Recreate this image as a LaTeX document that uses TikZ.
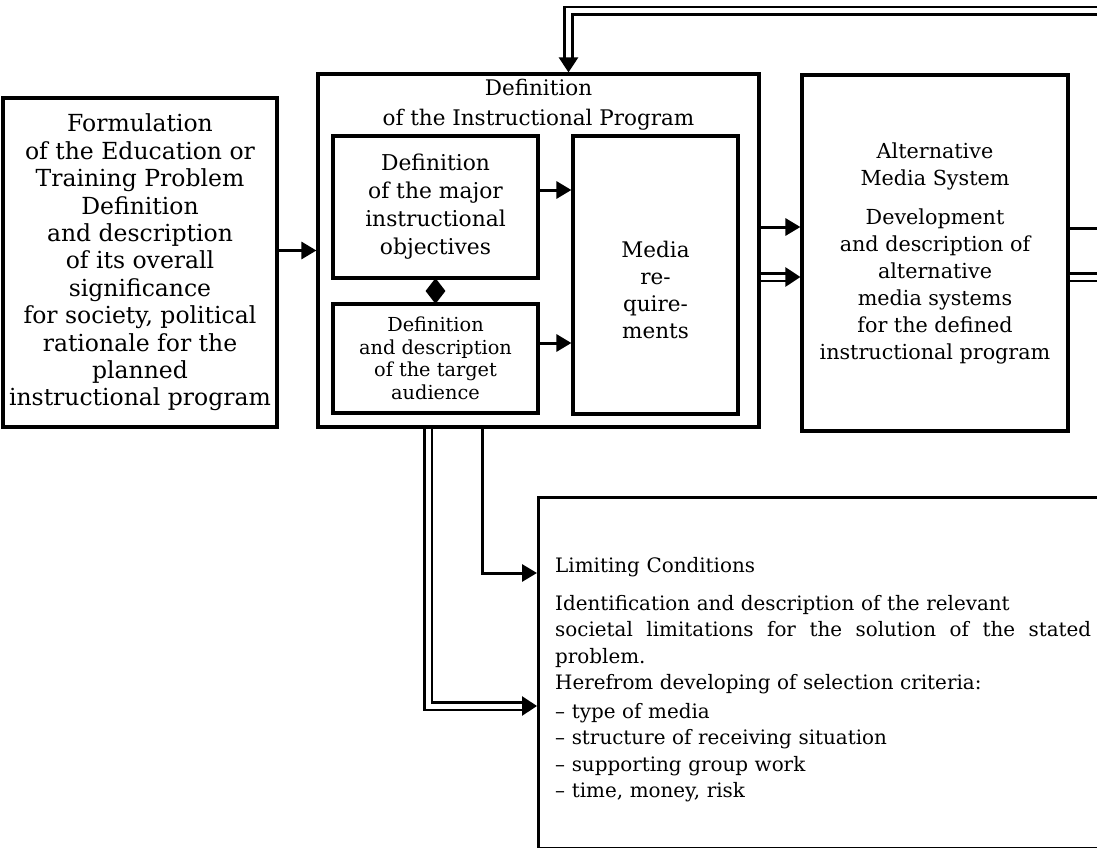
\documentclass[tikz,border=0pt]{standalone}
\usepackage{fontspec}
\setmainfont{DejaVu Serif}
\usetikzlibrary{shapes.geometric, arrows.meta}

\begin{document}
\begin{tikzpicture}[
    x=1pt, y=-1pt,
    box/.style={draw, line width=3.2pt, inner sep=0pt, align=center},
    arrow/.style={line width=3pt, -{Triangle[length=15pt, width=17pt]}},
    dblline/.style={line width=2.8pt, double, double distance=5pt},
    dblarrow/.style={dblline, -{Triangle[length=15pt, width=19pt]}}
]
\fill[white] (0,0) rectangle (1097,848);
\useasboundingbox (0,0) rectangle (1097,848);

% main boxes
\node[box, minimum width=274, minimum height=329, font=\fontsize{23.5}{27.4}\selectfont] (form) at (140,262.5)
  {Formulation\\of the Education or\\Training Problem\\Definition\\and description\\of its overall\\significance\\for society, political\\rationale for the\\planned\\instructional program};
\node[box, minimum width=441, minimum height=353] (dfn) at (538.5,250.5) {};
\node[align=center, font=\fontsize{21.5}{30}\selectfont] (dfntitle) at (538.5,105) {Definition\\of the Instructional Program};
\node[box, minimum width=205, minimum height=142, font=\fontsize{21.8}{28}\selectfont] (obj) at (435.5,207)
  {Definition\\of the major\\instructional\\objectives};
\node[box, minimum width=205, minimum height=109, font=\fontsize{19.3}{22.6}\selectfont] (aud) at (435.5,358.5)
  {Definition\\and description\\of the target\\audience};
\node[diamond, fill, inner sep=0pt, minimum width=20, minimum height=26] (link) at (435.5,291) {};
\node[box, minimum width=165, minimum height=278] (media) at (655.5,275) {};
\node[align=center, font=\fontsize{21.5}{27}\selectfont] (mediatxt) at (655.5,290) {Media\\re-\\quire-\\ments};
\node[box, minimum width=266, minimum height=356, font=\fontsize{20.7}{27}\selectfont] (alt) at (935,253)
  {Alternative\\Media System\\[12pt]Development\\and description of\\alternative\\media systems\\for the defined\\instructional program};

% limiting conditions
\node[box, anchor=north west, minimum width=572, minimum height=351] (lim) at (537,496) {};
\node[anchor=west, text width=540, align=left, inner sep=0pt,
  font=\fontsize{19.9}{26.5}\selectfont] (limtxt) at (555,680)
  {Limiting Conditions\\[11pt]
   Identification and description of the relevant\\
   \leavevmode\hbox to 536pt{societal\hfill limitations\hfill for\hfill the\hfill solution\hfill of\hfill the\hfill stated}\\
   problem.\\
   Herefrom developing of selection criteria:\\[2pt]
   -- type of media\\
   -- structure of receiving situation\\
   -- supporting group work\\
   -- time, money, risk};

% rows of the connectors
\coordinate (objrow) at (0,190);
\coordinate (audrow) at (0,343);
\coordinate (altrowA) at (0,227);
\coordinate (altrowB) at (0,277);
\coordinate (outA) at (1110,228);
\coordinate (outB) at (1110,277);
\coordinate (fbcorner) at (568.5,11);
\coordinate (fbend) at (1110,11);
\coordinate (limA) at (482,573);
\coordinate (limB) at (428,706);

% connectors
\draw[arrow] (form.east |- dfn.west) -- (dfn.west);
\draw[arrow] (obj.east |- objrow) -- (media.west |- objrow);
\draw[arrow] (aud.east |- audrow) -- (media.west |- audrow);
\draw[arrow] (dfn.east |- altrowA) -- (alt.west |- altrowA);
\draw[dblarrow] (dfn.east |- altrowB) -- (alt.west |- altrowB);
\draw[line width=3pt] (alt.east |- outA) -- (outA);
\draw[dblline] (alt.east |- outB) -- (outB);
\draw[dblarrow] (fbend) -- (fbcorner) -- (dfn.north -| fbcorner);
\draw[arrow] (dfn.south -| limA) -- (limA) -- (lim.west |- limA);
\draw[dblarrow] (dfn.south -| limB) -- (limB) -- (lim.west |- limB);

\end{tikzpicture}
\end{document}
